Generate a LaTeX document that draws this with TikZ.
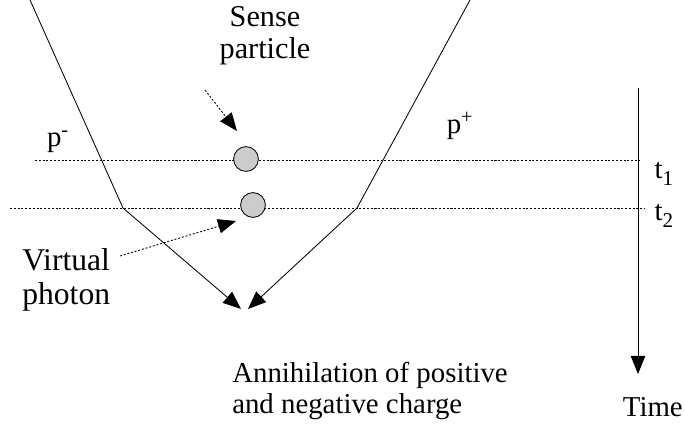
\documentclass[tikz,border=0pt]{standalone}
\usepackage{fontspec}
\setmainfont{Liberation Serif}
\usetikzlibrary{arrows.meta,positioning}

\newcommand{\tsub}[1]{\raisebox{-0.55ex}{\fontsize{15}{15}\selectfont #1}}

\begin{document}
\begin{tikzpicture}[x=0.025cm,y=-0.025cm,
  lbl/.style={font=\fontsize{20.5}{22.5}\selectfont,align=left,inner sep=0pt},
  ball/.style={circle,draw,line width=0.6pt,fill=gray!40,minimum size=0.62cm,inner sep=0pt},
  dl/.style={dash pattern=on 1.5pt off 1.2pt,line width=0.6pt},
  tip/.style={-{Triangle[length=4.5mm,width=3.6mm]}},
  a/.style={tip,line width=0.6pt}]
  \useasboundingbox (0,0) rectangle (685,433);
  % particle paths
  \coordinate (ls) at (30,0);   \coordinate (lk) at (123,208); \coordinate (le) at (241,309);
  \coordinate (rs) at (470,0);  \coordinate (rk) at (357,208); \coordinate (re) at (248,309);
  \draw[a] (ls)--(lk)--(le);
  \draw[a] (rs)--(rk)--(re);
  % time lines
  \coordinate (t1a) at (35,160); \coordinate (t1b) at (640,160);
  \coordinate (t2a) at (10,208); \coordinate (t2b) at (645,208);
  \draw[dl] (t1a)--(t1b); \draw[dl] (t2a)--(t2b);
  \node[ball] (sp) at (246,159) {};
  \node[ball] (vp) at (253,205) {};
  % time axis
  \coordinate (ta) at (638,88); \coordinate (tb) at (638,374);
  \draw[a] (ta)--(tb);
  % labels
  \node[lbl,align=center,font=\fontsize{21.5}{23}\selectfont] (sl) at (265,36) {Sense\\particle};
  \node[lbl,anchor=west,font=\fontsize{22.5}{24}\selectfont] (vl) at (22,280) {Virtual\\photon};
  \node[lbl] (pm) at (58,142) {p\textsuperscript{-}};
  \node[lbl] (pp) at (460,126) {p\textsuperscript{+}};
  \node[lbl] (t1) at (664,174) {t\tsub{1}};
  \node[lbl] (t2) at (664,216) {t\tsub{2}};
  \node[lbl,anchor=west] (an) at (232,391) {Annihilation of positive\\and negative charge};
  \node[lbl,anchor=east] (tm) at (683,407) {Time};
  \coordinate (sa) at (205,90);  \coordinate (sb) at (237,131);
  \coordinate (va) at (120,256); \coordinate (vb) at (236,221);
  \draw[a,dl] (sa)--(sb);
  \draw[a,dl] (va)--(vb);
\end{tikzpicture}
\end{document}
